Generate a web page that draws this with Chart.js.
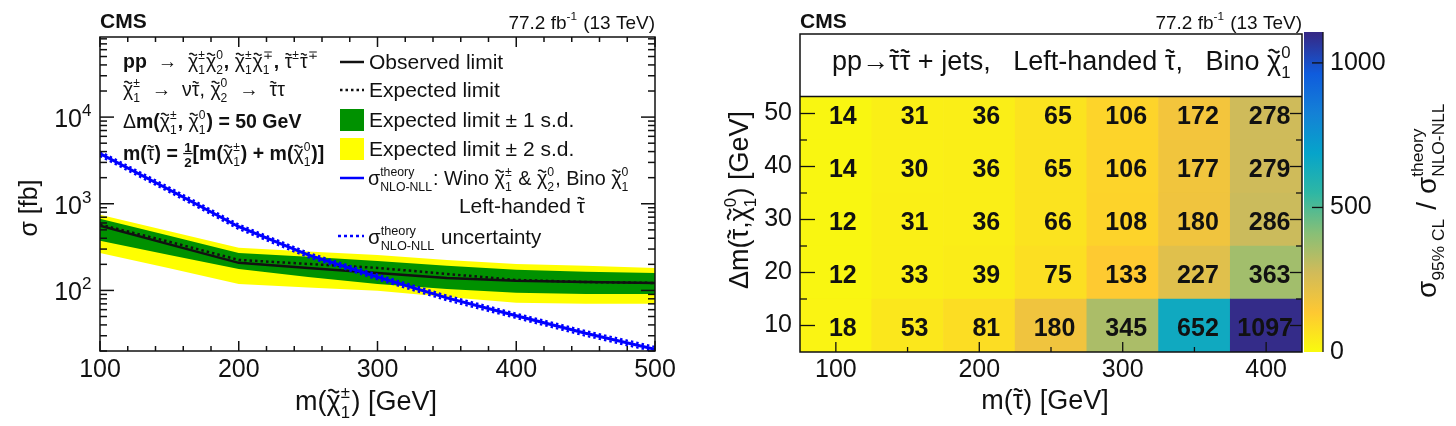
<!DOCTYPE html>
<html>
<head>
<meta charset="utf-8">
<script src="https://cdn.jsdelivr.net/npm/chart.js@4.4.1/dist/chart.umd.min.js"></script>
<style>
  html, body { margin: 0; padding: 0; background: #fff; width: 1456px; height: 426px; overflow: hidden; }
  canvas { position: absolute; top: 0; }
  #limitChart { left: 0; }
  #ratioChart { left: 720px; }
</style>
</head>
<body>
<canvas id="limitChart" width="700" height="426"></canvas>
<canvas id="ratioChart" width="736" height="426"></canvas>
<script>
const FONT = "'Liberation Sans', Arial, Helvetica, sans-serif";

// ---- left panel: 95% CL upper limits on the cross section [fb] vs m(chargino) [GeV]
const massPoints    = [100, 150, 200, 250, 300, 350, 400, 450, 500];
const observedLimit = [557, 340, 208, 182, 159, 139, 129, 125, 122];
const expectedLimit = [575, 364, 225, 202, 182, 155, 132, 125, 122];
const expectedUp1   = [671, 427, 271, 244, 219, 192, 173, 164, 159];
const expectedDown1 = [374, 257, 177, 143, 119, 104, 94, 91, 91];
const expectedUp2   = [746, 481, 310, 282, 257, 225, 202, 192, 182];
const expectedDown2 = [271, 180, 119, 108, 99, 84, 72, 70, 70];
const theoryXsec    = [3785, 1452, 543, 257, 143, 82, 51, 32, 21];
const theoryUp      = [4010, 1540, 576, 272, 152, 87, 54, 34, 22.3];
const theoryDown    = [3560, 1365, 510, 242, 134, 77, 48, 30, 19.7];
const limitXTicks   = [100, 200, 300, 400, 500];
const limitYDecades = [100, 1000, 10000];

// ---- right panel: sigma_95%CL / sigma_theory for left-handed stau pairs
const stauMass  = [100, 150, 200, 250, 300, 350, 400];
const deltaM    = [10, 20, 30, 40, 50];
const ratioDm10 = [18, 53, 81, 180, 345, 652, 1097];
const ratioDm20 = [12, 33, 39, 75, 133, 227, 363];
const ratioDm30 = [12, 31, 36, 66, 108, 180, 286];
const ratioDm40 = [14, 30, 36, 65, 106, 177, 279];
const ratioDm50 = [14, 31, 36, 65, 106, 172, 278];
const ratioRows = [ratioDm10, ratioDm20, ratioDm30, ratioDm40, ratioDm50];
const heatXTicks = [100, 200, 300, 400];
const heatYTicks = [10, 20, 30, 40, 50];
const zTicks = [0, 500, 1000];
const zMax = 1100;

// ROOT kBird palette (reversed below: small values yellow)
const birdStops = [0, 0.125, 0.25, 0.375, 0.5, 0.625, 0.75, 0.875, 1];
const birdR = [0.2082, 0.0592, 0.0780, 0.0232, 0.1802, 0.5301, 0.8186, 0.9956, 0.9764];
const birdG = [0.1664, 0.3599, 0.5041, 0.6419, 0.7178, 0.7492, 0.7328, 0.7862, 0.9832];
const birdB = [0.5293, 0.8684, 0.8385, 0.7914, 0.6425, 0.4662, 0.3499, 0.1968, 0.0539];

function birdAt(t) {
    t = Math.max(0, Math.min(1, t));
    let k = 0;
    while (k < birdStops.length - 2 && t > birdStops[k + 1]) k++;
    const f = (t - birdStops[k]) / (birdStops[k + 1] - birdStops[k]);
    const c = arr => Math.round(255 * (arr[k] + f * (arr[k + 1] - arr[k])));
    return `rgb(${c(birdR)},${c(birdG)},${c(birdB)})`;
}
const colorFor = v => birdAt(1 - v / zMax);

Chart.defaults.font.family = FONT;
Chart.defaults.color = '#111';

function seg(ctx, x1, y1, x2, y2) {
    ctx.beginPath();
    ctx.moveTo(x1, y1);
    ctx.lineTo(x2, y2);
    ctx.stroke();
}

function drawTilde(ctx, cx, cy, w, lw) {
    ctx.beginPath();
    for (let i = 0; i <= 12; i++) {
        const u = i / 12;
        const px = cx - w / 2 + w * u;
        const py = cy - Math.sin(u * 2 * Math.PI) * w * 0.13;
        if (i) ctx.lineTo(px, py); else ctx.moveTo(px, py);
    }
    ctx.lineWidth = lw;
    ctx.stroke();
}

// tiny rich text: strings or {t, w, tilde, sup, sub, frac}
function drawRich(ctx, parts, x, y, size, opt = {}) {
    const weight = opt.weight || 'normal';
    const align = opt.align || 'left';
    const run = (paint, x0) => {
        let cx = x0;
        for (const p0 of parts) {
            const p = typeof p0 === 'string' ? { t: p0 } : p0;
            const w = p.w || weight;
            if (p.frac) {
                const fs = size * 0.68;
                ctx.font = `${w} ${fs}px ${FONT}`;
                const wn = Math.max(ctx.measureText(p.frac[0]).width, ctx.measureText(p.frac[1]).width);
                if (paint) {
                    ctx.textAlign = 'center';
                    ctx.fillText(p.frac[0], cx + wn / 2 + 1, y - size * 0.42);
                    ctx.fillText(p.frac[1], cx + wn / 2 + 1, y + size * 0.36);
                    ctx.fillRect(cx, y - size * 0.36, wn + 2, Math.max(1, size * 0.06));
                    ctx.textAlign = 'left';
                }
                cx += wn + 2;
                continue;
            }
            let tw = 0;
            if (p.t) {
                ctx.font = `${w} ${size}px ${FONT}`;
                tw = ctx.measureText(p.t).width;
                if (paint) {
                    ctx.fillText(p.t, cx, y);
                    if (p.tilde) drawTilde(ctx, cx + tw / 2, y - size * 0.7, tw * 0.75, size * 0.07);
                }
            }
            cx += tw;
            if (p.sup || p.sub) {
                const ss = size * 0.62;
                ctx.font = `${w} ${ss}px ${FONT}`;
                let sw = 0;
                if (p.sup) {
                    sw = Math.max(sw, ctx.measureText(p.sup).width);
                    if (paint) ctx.fillText(p.sup, cx, y - size * 0.45);
                }
                if (p.sub) {
                    sw = Math.max(sw, ctx.measureText(p.sub).width);
                    if (paint) ctx.fillText(p.sub, cx, y + size * 0.3);
                }
                cx += sw + size * 0.05;
            }
        }
        return cx - x0;
    };
    ctx.save();
    ctx.fillStyle = opt.color || '#111';
    ctx.strokeStyle = opt.color || '#111';
    ctx.textBaseline = 'alphabetic';
    ctx.textAlign = 'left';
    const width = run(false, 0);
    const sx = align === 'center' ? x - width / 2 : align === 'right' ? x - width : x;
    run(true, sx);
    ctx.restore();
    return width;
}

const chi = (sup, sub, w) => ({ t: 'χ', tilde: true, sup, sub, w });
const stau = (sup, w) => ({ t: 'τ', tilde: true, sup, w });
const sigTh = { t: 'σ', sup: 'theory', sub: 'NLO-NLL' };

const GREEN = 'rgb(0,145,0)';
const YELLOW = 'rgb(255,255,0)';
const BLUE = 'rgb(0,0,255)';

// ---------------- left panel ----------------
const limitDecor = {
    id: 'limitDecor',
    afterDraw(chart) {
        const { ctx, chartArea: ca, scales: { x, y } } = chart;
        ctx.save();
        ctx.strokeStyle = '#111';
        ctx.lineWidth = 1.5;
        ctx.strokeRect(ca.left, ca.top, ca.right - ca.left, ca.bottom - ca.top);
        for (let m = x.min; m <= x.max; m += 20) {
            const px = x.getPixelForValue(m);
            const len = m % 100 === 0 ? 10 : 5;
            seg(ctx, px, ca.bottom, px, ca.bottom - len);
            seg(ctx, px, ca.top, px, ca.top + len);
        }
        for (let dec = 10; dec <= 10000; dec *= 10) {
            for (let k = 1; k <= 9; k++) {
                const v = k * dec;
                if (v < y.min || v > y.max) continue;
                const py = y.getPixelForValue(v);
                const len = k === 1 ? 14 : 7;
                seg(ctx, ca.left, py, ca.left + len, py);
                seg(ctx, ca.right, py, ca.right - len, py);
            }
        }
        // log tick labels 10^n
        ctx.fillStyle = '#111';
        limitYDecades.forEach(v => {
            const py = y.getPixelForValue(v);
            ctx.font = `25px ${FONT}`;
            ctx.textAlign = 'right';
            ctx.fillText('10', 82, py + 10);
            ctx.font = `17px ${FONT}`;
            ctx.textAlign = 'left';
            ctx.fillText(String(Math.round(Math.log10(v))), 82, py - 1);
        });

        // axis titles
        drawRich(ctx, ['m(', chi('±', '1'), ') [GeV]'], 366, 410, 27, { align: 'center' });
        ctx.save();
        ctx.translate(37, 208);
        ctx.rotate(-Math.PI / 2);
        drawRich(ctx, ['σ [fb]'], 0, 0, 25, { align: 'center' });
        ctx.restore();

        // header
        ctx.fillStyle = '#111';
        ctx.font = `bold 21px ${FONT}`;
        ctx.textAlign = 'left';
        ctx.fillText('CMS', ca.left, 28);
        drawRich(ctx, ['77.2 fb', { sup: '-1' }, ' (13 TeV)'], ca.right, 29, 19, { align: 'right' });

        // process text block
        const bs = 19.5, n = 'normal';
        drawRich(ctx, ['pp', { t: '  →  ', w: n }, chi('±', '1', n), chi('0', '2', n), ', ', chi('±', '1', n), chi('∓', '1', n), ', ', stau('±', n), stau('∓', n)], 123, 68, bs, { weight: 'bold' });
        drawRich(ctx, [chi('±', '1'), '  →  ν', stau(), ', ', chi('0', '2'), '  →  ', stau(), 'τ'], 123, 96, bs);
        drawRich(ctx, [{ t: 'Δ', w: n }, 'm(', chi('±', '1', n), ', ', chi('0', '1', n), ') = 50 GeV'], 123, 128, bs, { weight: 'bold' });
        drawRich(ctx, ['m(', stau(undefined, n), ') = ', { frac: ['1', '2'] }, '[m(', chi('±', '1', n), ') + m(', chi('0', '1', n), ')]'], 123, 160, bs, { weight: 'bold' });

        // legend
        const lx0 = 340, lx1 = 364, tx = 369, fs = 21;
        ctx.lineWidth = 2.5;
        ctx.strokeStyle = '#111';
        seg(ctx, lx0, 62, lx1, 62);
        ctx.setLineDash([2.5, 3]);
        seg(ctx, lx0, 90, lx1, 90);
        ctx.setLineDash([]);
        ctx.fillStyle = GREEN;
        ctx.fillRect(lx0, 109, 24, 22);
        ctx.fillStyle = YELLOW;
        ctx.fillRect(lx0, 138, 24, 22);
        ctx.strokeStyle = BLUE;
        seg(ctx, lx0, 178, lx1, 178);
        ctx.setLineDash([3, 3]);
        seg(ctx, lx0 - 2, 236, lx1, 236);
        ctx.setLineDash([]);
        drawRich(ctx, ['Observed limit'], tx, 69, fs);
        drawRich(ctx, ['Expected limit'], tx, 97, fs);
        drawRich(ctx, ['Expected limit ± 1 s.d.'], tx, 127, fs);
        drawRich(ctx, ['Expected limit ± 2 s.d.'], tx, 156, fs);
        drawRich(ctx, [sigTh, ': Wino ', chi('±', '1'), ' & ', chi('0', '2'), ', Bino ', chi('0', '1')], tx - 1, 185, 19.8);
        drawRich(ctx, ['Left-handed ', stau()], 522, 213, fs, { align: 'center' });
        drawRich(ctx, [sigTh, ' uncertainty'], tx - 1, 244, 20.5);
        ctx.restore();
    }
};

const line = (data, color, width, dash, order) => ({
    data, borderColor: color, borderWidth: width, borderDash: dash, pointRadius: 0,
    fill: false, tension: 0, order
});

new Chart(document.getElementById('limitChart'), {
    type: 'line',
    data: {
        labels: massPoints,
        datasets: [
            { data: expectedUp2, backgroundColor: YELLOW, borderWidth: 0, pointRadius: 0, fill: '+1', order: 9 },
            { data: expectedDown2, borderWidth: 0, pointRadius: 0, fill: false, order: 9 },
            { data: expectedUp1, backgroundColor: GREEN, borderWidth: 0, pointRadius: 0, fill: '+1', order: 8 },
            { data: expectedDown1, borderWidth: 0, pointRadius: 0, fill: false, order: 8 },
            line(expectedLimit, '#111', 2.5, [2.5, 3], 4),
            line(observedLimit, '#111', 2.5, [], 3),
            line(theoryUp, BLUE, 2.2, [2.5, 3], 2),
            line(theoryDown, BLUE, 2.2, [2.5, 3], 2),
            line(theoryXsec, BLUE, 3, [], 1)
        ].map(d => ({ ...d, data: d.data.map((v, i) => ({ x: massPoints[i], y: v })) }))
    },
    options: {
        responsive: false,
        animation: false,
        events: [],
        layout: { padding: { left: 0, right: 45, top: 37, bottom: 0 } },
        plugins: { legend: { display: false }, tooltip: { enabled: false } },
        scales: {
            x: {
                type: 'linear', min: 100, max: 500,
                grid: { display: false, drawTicks: false }, border: { display: false },
                ticks: { font: { size: 25 }, color: '#111', padding: 4, maxRotation: 0, autoSkip: false },
                afterBuildTicks: s => { s.ticks = limitXTicks.map(v => ({ value: v })); },
                afterFit: s => { s.height = 75; s.paddingLeft = 0; s.paddingRight = 0; }
            },
            y: {
                type: 'logarithmic', min: 20, max: 84000,
                grid: { display: false, drawTicks: false }, border: { display: false },
                ticks: { display: false },
                afterFit: s => { s.width = 100; s.paddingTop = 0; s.paddingBottom = 0; }
            }
        }
    },
    plugins: [limitDecor]
});

// ---------------- right panel ----------------
const OFF = 720;
const heatDecor = {
    id: 'heatDecor',
    afterDatasetsDraw(chart) {
        const { ctx, chartArea: ca, scales: { x, y, z } } = chart;
        ctx.save();
        // cell numbers
        ctx.fillStyle = '#111';
        ctx.font = `bold 25px ${FONT}`;
        ctx.textAlign = 'center';
        ctx.textBaseline = 'alphabetic';
        deltaM.forEach((dm, r) => {
            ratioRows[r].forEach((v, i) => {
                const dx = [0, 0, 7, 3.5, -1][String(v).length];
                ctx.fillText(String(v), x.getPixelForValue(stauMass[i]) + dx, y.getPixelForValue(dm) + 10);
            });
        });
        // header box
        const boxBottom = y.getPixelForValue(53.2);
        ctx.fillStyle = '#fff';
        ctx.fillRect(ca.left, ca.top, ca.right - ca.left, boxBottom - ca.top);
        ctx.strokeStyle = '#111';
        ctx.lineWidth = 1.5;
        ctx.strokeRect(ca.left, ca.top, ca.right - ca.left, ca.bottom - ca.top);
        seg(ctx, ca.left, boxBottom, ca.right, boxBottom);
        drawRich(ctx, ['pp→', stau(), stau(), ' + jets,   Left-handed ', stau(), ',   Bino ', chi('0', '1')], 832 - OFF, 70, 27);

        // ticks
        ctx.lineWidth = 1.3;
        heatXTicks.forEach(v => {
            const px = x.getPixelForValue(v);
            seg(ctx, px, ca.bottom, px, ca.bottom - 10);
            const pm = x.getPixelForValue(v + 50);
            if (v + 50 < x.max) seg(ctx, pm, ca.bottom, pm, ca.bottom - 5);
        });
        heatYTicks.forEach(v => {
            const py = y.getPixelForValue(v);
            seg(ctx, ca.left, py, ca.left + 15, py);
            seg(ctx, ca.right, py, ca.right - 12, py);
            const pm = y.getPixelForValue(v + 5);
            if (v + 5 < 53) {
                seg(ctx, ca.left, pm, ca.left + 7, pm);
                seg(ctx, ca.right, pm, ca.right - 6, pm);
            }
        });

        // colour bar
        const bx0 = ca.right + 2, bx1 = ca.right + 21;
        const top = z.getPixelForValue(zMax), bot = z.getPixelForValue(0);
        const grad = ctx.createLinearGradient(0, bot, 0, top);
        birdStops.forEach(s => grad.addColorStop(1 - s, birdAt(s)));
        ctx.fillStyle = grad;
        ctx.fillRect(bx0, top - 2, bx1 - bx0, bot - top + 2);
        ctx.strokeStyle = '#111';
        seg(ctx, bx1, top - 2, bx1, bot);
        zTicks.forEach(v => {
            if (v === 0) return;
            const py = z.getPixelForValue(v);
            seg(ctx, bx1, py, bx1 - 11, py);
        });

        // titles
        ctx.save();
        ctx.translate(748 - OFF, 200);
        ctx.rotate(-Math.PI / 2);
        drawRich(ctx, [{ t: 'Δ' }, 'm(', stau(), ',', chi('0', '1'), ') [GeV]'], 0, 0, 27, { align: 'center' });
        ctx.restore();
        ctx.save();
        ctx.translate(1436 - OFF, 200);
        ctx.rotate(-Math.PI / 2);
        drawRich(ctx, [{ t: 'σ', sub: '95% CL' }, ' / ', sigTh], 0, 0, 28, { align: 'center' });
        ctx.restore();
        drawRich(ctx, ['m(', stau(), ') [GeV]'], 1045 - OFF, 409, 27, { align: 'center' });

        ctx.fillStyle = '#111';
        ctx.font = `bold 21px ${FONT}`;
        ctx.textAlign = 'left';
        ctx.fillText('CMS', ca.left, 28);
        drawRich(ctx, ['77.2 fb', { sup: '-1' }, ' (13 TeV)'], ca.right, 29, 19, { align: 'right' });
        ctx.restore();
    }
};

new Chart(document.getElementById('ratioChart'), {
    type: 'bar',
    data: {
        datasets: deltaM.map((dm, r) => ({
            data: stauMass.map((m, i) => ({ x: m, y: [dm - 5, dm + 5], v: ratioRows[r][i] })),
            backgroundColor: c => (c.raw ? colorFor(c.raw.v) : '#fff'),
            borderWidth: 0,
            barPercentage: 1,
            categoryPercentage: 1,
            grouped: false
        }))
    },
    options: {
        responsive: false,
        animation: false,
        events: [],
        layout: { padding: { left: 0, right: 0, top: 34, bottom: 0 } },
        plugins: { legend: { display: false }, tooltip: { enabled: false } },
        scales: {
            x: {
                type: 'linear', min: 75, max: 425, offset: false,
                grid: { display: false, drawTicks: false }, border: { display: false },
                ticks: { font: { size: 25 }, color: '#111', padding: 3, maxRotation: 0, autoSkip: false },
                afterBuildTicks: s => { s.ticks = heatXTicks.map(v => ({ value: v })); },
                afterFit: s => { s.height = 74; s.paddingLeft = 0; s.paddingRight = 0; }
            },
            y: {
                type: 'linear', min: 5, max: 65,
                grid: { display: false, drawTicks: false }, border: { display: false },
                ticks: { font: { size: 25 }, color: '#111', padding: 8, autoSkip: false },
                afterBuildTicks: s => { s.ticks = heatYTicks.map(v => ({ value: v })); },
                afterFit: s => { s.width = 80; s.paddingTop = 0; s.paddingBottom = 0; }
            },
            z: {
                type: 'linear', position: 'right', display: true, min: 0, max: zMax,
                grid: { display: false, drawTicks: false }, border: { display: false },
                ticks: { font: { size: 25 }, color: '#111', padding: 28, autoSkip: false, callback: v => String(v) },
                afterBuildTicks: s => { s.ticks = zTicks.map(v => ({ value: v })); },
                afterFit: s => { s.width = 154; s.paddingTop = 0; s.paddingBottom = 0; }
            }
        }
    },
    plugins: [heatDecor]
});
</script>
</body>
</html>
